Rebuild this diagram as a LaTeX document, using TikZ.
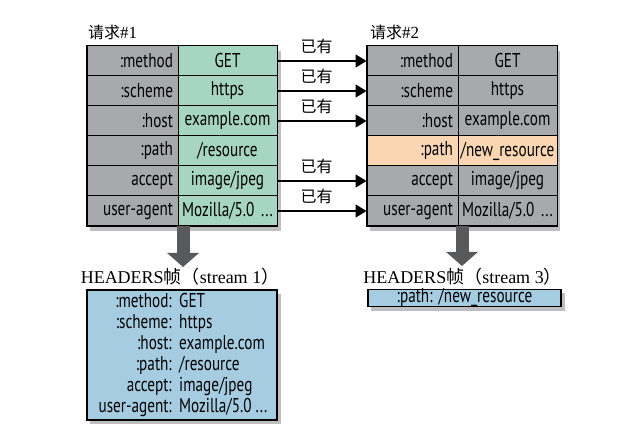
\documentclass[tikz,border=0pt]{standalone}
\usepackage{fontspec}
\usepackage{xcolor}
\usetikzlibrary{arrows.meta}
\setmainfont{Liberation Serif}
\newfontfamily\cjk{Noto Sans CJK SC}
\newfontfamily\cellfont[FakeStretch=0.76]{PT Sans}

\definecolor{keygray}{RGB}{167,169,172}
\definecolor{valgreen}{RGB}{166,214,193}
\definecolor{pathorange}{RGB}{250,214,178}
\definecolor{boxblue}{RGB}{166,204,226}
\definecolor{arrowgray}{RGB}{88,89,91}
\definecolor{shadowgray}{RGB}{190,190,192}

\tikzset{
  keycell/.style={draw=black, line width=1pt, fill=keygray, minimum width=91pt,
    minimum height=30pt, text width=81pt, inner xsep=5pt, inner ysep=0pt,
    align=right, font=\cellfont\fontsize{20pt}{21pt}\selectfont},
  valcell/.style={keycell, fill=valgreen, minimum width=99pt, text width=97pt,
    inner xsep=1pt, align=center},
  hasarrow/.style={line width=1.5pt, -{Triangle[length=11pt,width=13pt]}},
  bigarrow/.style={draw=arrowgray, line width=13pt, -{Triangle[length=14pt,width=31pt]}},
  cjklabel/.style={inner sep=0pt, font=\cjk\fontsize{16pt}{18pt}\selectfont},
  hdrlabel/.style={inner sep=0pt, font=\fontsize{18pt}{20pt}\selectfont},
  bluebox/.style={draw=black, line width=1.5pt, fill=boxblue, inner sep=0pt},
  boxtext/.style={inner sep=0pt, font=\cellfont\fontsize{20pt}{21pt}\selectfont},
}

\begin{document}
\begin{tikzpicture}[x=1pt,y=-1pt]
\useasboundingbox (0,0) rectangle (638,441);

% shadows
\fill[shadowgray] (90,51) rectangle (281,231);
\fill[shadowgray] (370,51) rectangle (560,231);
\fill[shadowgray] (90,294) rectangle (281,424);
\fill[shadowgray] (371,293) rectangle (565,311);

% request #1
\node[cjklabel, anchor=west] (title1) at (88,32) {请求{\rmfamily\fontsize{17pt}{18pt}\selectfont\#1}};
\foreach \i/\k/\v in {1/{:method}/GET, 2/{:scheme}/https, 3/{:host}/example.com,
    4/{:path}/{/resource}, 5/accept/{image/jpeg}, 6/{user-agent}/{Mozilla/5.0 ...}} {
  \node[keycell] (k1-\i) at (132.5,31+30*\i) {\k};
  \node[valcell] (v1-\i) at (227.5,31+30*\i) {\v};
}
\draw[line width=1.5pt] (k1-1.north west) rectangle (v1-6.south east);

% request #2
\node[cjklabel, anchor=west] (title2) at (370,32) {请求{\rmfamily\fontsize{17pt}{18pt}\selectfont\#2}};
\foreach \i/\k/\v in {1/{:method}/GET, 2/{:scheme}/https, 3/{:host}/example.com,
    4/{:path}/{/new\_resource}, 5/accept/{image/jpeg}, 6/{user-agent}/{Mozilla/5.0 ...}} {
  \ifnum\i=4 \def\rowfill{pathorange}\else\def\rowfill{keygray}\fi
  \node[keycell, fill=\rowfill] (k2-\i) at (412.5,31+30*\i) {\k};
  \node[valcell, fill=\rowfill] (v2-\i) at (507.5,31+30*\i) {\v};
}
\draw[line width=1.5pt] (k2-1.north west) rectangle (v2-6.south east);

% already known
\foreach \i in {1,2,3,5,6}
  \draw[hasarrow] (v1-\i.east) -- (k2-\i.west)
    node[cjklabel, above=6pt, pos=0.44] (has\i) {已有};

% headers frames
\node[hdrlabel] (hdr1) at (180,277) {HEADERS{\cjk 帧（}stream 1{\cjk ）}};
\node[hdrlabel] (hdr2) at (462.5,277) {HEADERS{\cjk 帧（}stream 3{\cjk ）}};

\coordinate (tip1) at (183,267);
\coordinate (tip2) at (462,266);
\draw[bigarrow] (tip1 |- v1-6.south) -- (tip1);
\draw[bigarrow] (tip2 |- v2-6.south) -- (tip2);

\node[bluebox, minimum width=190pt, minimum height=130pt] (frame1) at (182,355) {};
\foreach \j/\k/\v in {1/{:method}/GET, 2/{:scheme}/https, 3/{:host}/example.com,
    4/{:path}/{/resource}, 5/accept/{image/jpeg}, 6/{user-agent}/{Mozilla/5.0 ...}} {
  \node[boxtext, anchor=base east] (fk\j) at (172,286+21*\j) {\k:};
  \node[boxtext, anchor=base west] (fv\j) at (179,286+21*\j) {\v};
}

\node[bluebox, boxtext, minimum width=193pt, text height=13pt, text depth=4pt] (frame2) at (464.5,298)
  {:path:\hspace{6pt}/new\_resource};
\end{tikzpicture}
\end{document}
